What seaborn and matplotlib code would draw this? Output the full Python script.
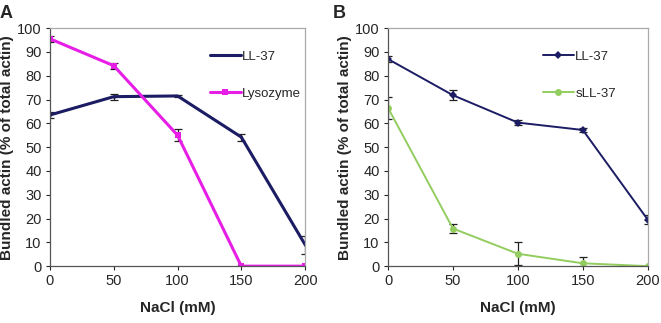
import numpy as np
import pandas as pd
import seaborn as sns
import matplotlib
matplotlib.use('Agg')
import matplotlib.pyplot as plt

nacl = [0, 50, 100, 150, 200]

# panel A
a_ll37 = [63.5, 71.2, 71.5, 54.2, 9.0]
a_ll37_err = [1.2, 1.2, 0.5, 1.5, 3.8]
a_lyso = [95.5, 84.2, 55.0, 0.0, 0.0]
a_lyso_err = [1.2, 1.2, 2.5, 0.0, 0.0]

# panel B
b_ll37 = [87.0, 71.8, 60.3, 57.2, 19.5]
b_ll37_err = [1.2, 2.0, 1.2, 0.8, 2.0]
b_sll37 = [66.5, 15.8, 5.2, 1.2, 0.0]
b_sll37_err = [4.5, 2.0, 4.8, 2.8, 0.0]

sns.set_theme(style='white')
plt.rcParams['font.family'] = ['Liberation Sans', 'DejaVu Sans']

navy = '#1c1c64'
magenta = '#e61ee6'
green = '#93cd5f'

fig = plt.figure(figsize=(6.61, 3.23), dpi=100)
axA = fig.add_axes([0.0756, 0.176, 0.386, 0.737])
axB = fig.add_axes([0.587, 0.176, 0.393, 0.737])

dfA = pd.DataFrame({'NaCl': nacl * 2,
                    'val': a_ll37 + a_lyso,
                    'err': a_ll37_err + a_lyso_err,
                    'series': ['LL-37'] * 5 + ['Lysozyme'] * 5})
dfB = pd.DataFrame({'NaCl': nacl * 2,
                    'val': b_ll37 + b_sll37,
                    'err': b_ll37_err + b_sll37_err,
                    'series': ['LL-37'] * 5 + ['sLL-37'] * 5})

def draw(ax, df, palette, markers, sizes, lws, leg_x):
    for name, col in palette.items():
        d = df[df.series == name]
        ax.errorbar(d.NaCl, d.val, yerr=d.err, fmt='none', ecolor='#222222',
                    elinewidth=0.9, capsize=3, capthick=0.9, zorder=1)
    sns.lineplot(data=df, x='NaCl', y='val', hue='series', style='series',
                 palette=palette, markers=markers, dashes=False, ax=ax,
                 markeredgewidth=0, legend=False, zorder=2)
    for line, name in zip(ax.get_lines()[-2:], palette):
        line.set_markersize(sizes[name])
        line.set_linewidth(lws[name])
    ax.set_xlim(0, 200)
    ax.set_ylim(0, 100)
    ax.set_xticks(nacl)
    ax.set_yticks(range(0, 101, 10))
    ax.tick_params(axis='both', labelsize=10.5, length=3, width=0.8,
                   direction='out', bottom=True, left=True, pad=3)
    ax.set_xlabel('NaCl (mM)', fontsize=11, fontweight='bold', labelpad=9)
    ax.set_ylabel('Bundled actin (% of total actin)', fontsize=11,
                  fontweight='bold', labelpad=2)
    for s in ['left', 'bottom']:
        ax.spines[s].set_color('#555555')
        ax.spines[s].set_linewidth(0.9)
    for s in ['top', 'right']:
        ax.spines[s].set_color('#aaaaaa')
        ax.spines[s].set_linewidth(0.9)
    # legend-like entries without frame
    handles = []
    for name, col in palette.items():
        h, = ax.plot([], [], color=col, marker=markers[name],
                     markersize=sizes[name], lw=lws[name], markeredgewidth=0)
        handles.append(h)
    ax.legend(handles, list(palette), loc='upper left', frameon=False,
              bbox_to_anchor=(leg_x, 0.905), borderpad=0, borderaxespad=0,
              fontsize=9.5, handlelength=2.35, handletextpad=0.1,
              labelspacing=1.85)

draw(axA, dfA, {'LL-37': navy, 'Lysozyme': magenta},
     {'LL-37': 'o', 'Lysozyme': 's'}, {'LL-37': 2, 'Lysozyme': 5},
     {'LL-37': 2.2, 'Lysozyme': 2.2}, 0.627)
draw(axB, dfB, {'LL-37': navy, 'sLL-37': green},
     {'LL-37': 'D', 'sLL-37': 'o'}, {'LL-37': 4, 'sLL-37': 5},
     {'LL-37': 1.4, 'sLL-37': 1.4}, 0.596)

fig.text(0.0, 0.985, 'A', fontsize=13, fontweight='bold', va='top')
fig.text(0.503, 0.985, 'B', fontsize=13, fontweight='bold', va='top')

fig.savefig('out.png', dpi=100)
